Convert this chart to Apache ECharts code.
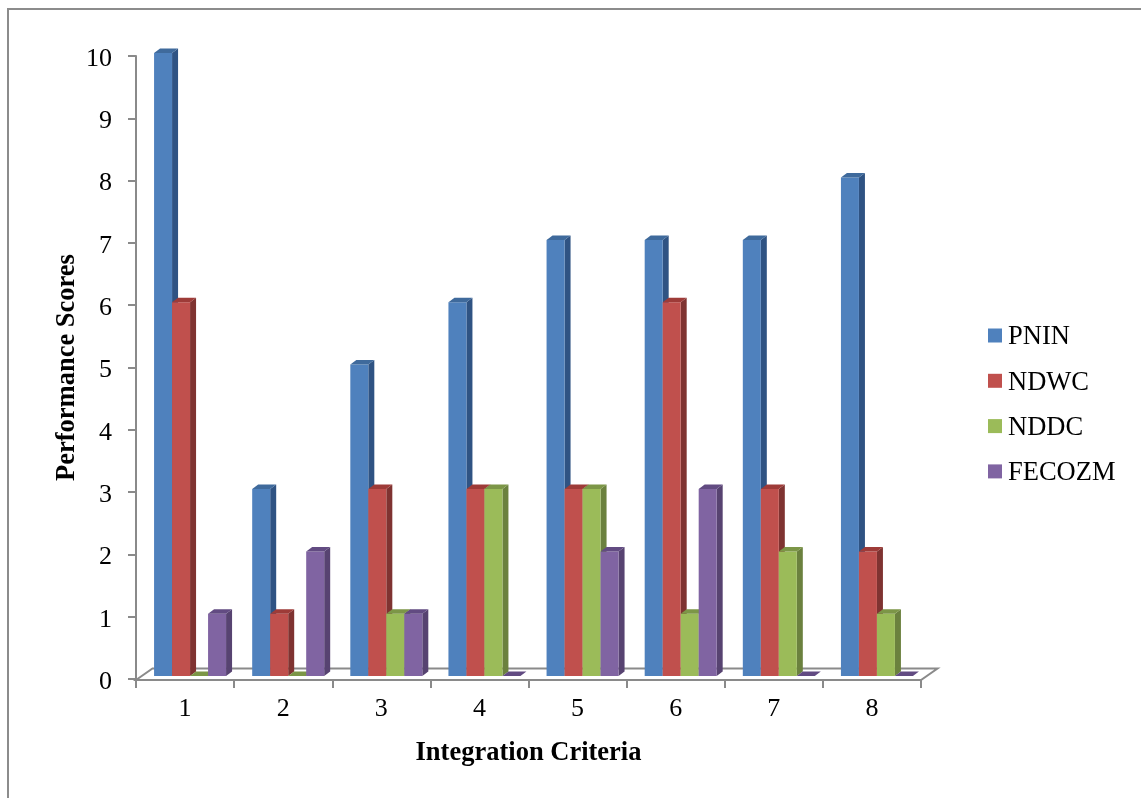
<!DOCTYPE html>
<html>
<head>
<meta charset="utf-8">
<style>html,body{margin:0;padding:0;background:#fff}#c{width:1141px;height:798px}</style>
<script src="https://cdn.jsdelivr.net/npm/echarts@6/dist/echarts.min.js"></script>
</head>
<body>
<div id="c"></div>
<script>
const categories = ['1','2','3','4','5','6','7','8'];
const PNIN   = [10,3,5,6,7,7,7,8];
const NDWC   = [6,1,3,3,3,6,3,2];
const NDDC   = [0,0,1,3,3,1,2,1];
const FECOZM = [1,2,1,0,2,3,0,0];
const names = ['PNIN','NDWC','NDDC','FECOZM'];
const values = [PNIN,NDWC,NDDC,FECOZM];
const front = ['#4F81BD','#C0504D','#9BBB59','#8064A2'];
const side  = ['#2F5383','#7F3331','#6B813E','#574371'];
const top_  = ['#3F6A9C','#9E3B38','#7C9647','#624B82'];

const font = '"Liberation Serif","Times New Roman",serif';
const BAR_W = 18, DX = 6, DY = 4.5, SHIFT_X = 5, SHIFT_Y = -3;

function barRenderer(si){
  return function(params, api){
    const c = api.value(0), v = api.value(1);
    const base = api.coord([c,0]), tip = api.coord([c,v]);
    const x0 = base[0] + SHIFT_X + (si-2)*BAR_W, x1 = x0 + BAR_W;
    const yb = base[1] + SHIFT_Y, yt = tip[1] + SHIFT_Y;
    const children = [];
    const poly = (pts,fill)=>({type:'polygon',shape:{points:pts},style:{fill:fill},silent:true});
    if (v > 0) {
      children.push(poly([[x1,yb],[x1+DX,yb-DY],[x1+DX,yt-DY],[x1,yt]],side[si]));
      children.push({type:'rect',shape:{x:x0,y:yt,width:BAR_W,height:yb-yt},style:{fill:front[si]},silent:true});
    }
    children.push(poly([[x0,yt],[x0+DX,yt-DY],[x1+DX,yt-DY],[x1,yt]],top_[si]));
    return {type:'group',children};
  };
}

const floorSeries = {
  type:'custom', name:'floor', coordinateSystem:'cartesian2d', silent:true, clip:false, z:1,
  data:[[0,0]],
  renderItem(params, api){
    const band = api.size([1,0])[0];
    const l = api.coord([0,0]), xl = l[0]-band/2, y = l[1]+1;
    const xr = xl + band*categories.length, dx = 16.5, dy = 11.5;
    return {type:'polygon',shape:{points:[[xl,y],[xl+dx,y-dy],[xr+dx,y-dy],[xr,y]]},
      style:{stroke:'#8a8a8a',lineWidth:2,fill:'#ffffff'}};
  }
};

const series = [floorSeries].concat(names.map((n,si)=>({
  type:'custom', name:n, coordinateSystem:'cartesian2d', clip:false, z:2+si,
  itemStyle:{color:front[si]},
  encode:{x:0,y:1},
  data:values[si].map((v,i)=>[i,v]),
  renderItem:barRenderer(si)
})));

const chart = echarts.init(document.getElementById('c'),null,{renderer:'canvas'});
chart.setOption({
  animation:false,
  backgroundColor:'#fff',
  grid:{left:136,right:220,top:56,bottom:119,containLabel:false},
  xAxis:{type:'category',data:categories,boundaryGap:true,
    name:'Integration Criteria',nameLocation:'middle',nameGap:61,nameMoveOverlap:false,
    nameTextStyle:{fontFamily:font,fontSize:26.5,fontWeight:'bold',color:'#000'},
    axisLine:{show:false},
    axisTick:{show:true,alignWithLabel:false,length:9,lineStyle:{color:'#8a8a8a',width:2}},
    axisLabel:{fontFamily:font,fontSize:26,color:'#000',margin:17},
    splitLine:{show:false}},
  yAxis:{type:'value',min:0,max:10,interval:1,
    name:'Performance Scores',nameLocation:'middle',nameGap:55,nameMoveOverlap:false,
    nameTextStyle:{fontFamily:font,fontSize:26.5,fontWeight:'bold',color:'#000'},
    axisLine:{show:true,lineStyle:{color:'#8a8a8a',width:2}},
    axisTick:{show:true,length:8,lineStyle:{color:'#8a8a8a',width:2}},
    axisLabel:{margin:24,formatter:'{a|{value}}',
      rich:{a:{fontFamily:font,fontSize:26,color:'#000',padding:[6,0,0,0]}}},
    splitLine:{show:false}},
  legend:{show:true,orient:'vertical',left:983,top:319,data:names,icon:'rect',
    itemWidth:14,itemHeight:14,itemGap:18.3,
    formatter:'{a|{name}}',
    textStyle:{rich:{a:{fontFamily:font,fontSize:26.5,color:'#000',padding:[4,0,0,1]}}}},
  graphic:[{type:'polyline',silent:true,z:100,
    shape:{points:[[8,798],[8,9],[1141,9]]},
    style:{stroke:'#8c8c8c',lineWidth:2,fill:null}}],
  series
});
</script>
</body>
</html>
